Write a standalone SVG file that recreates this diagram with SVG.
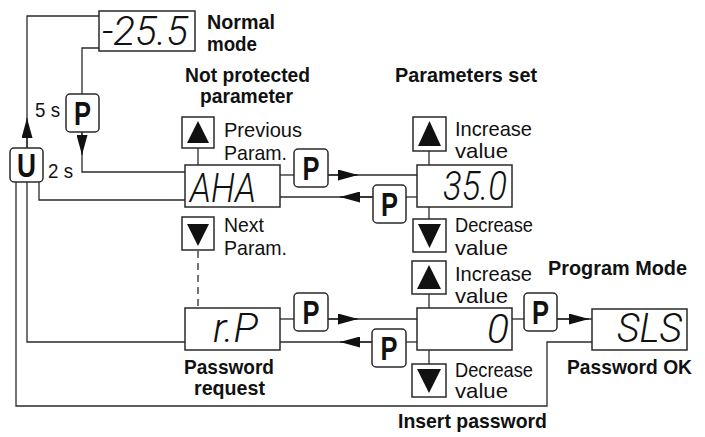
<svg xmlns="http://www.w3.org/2000/svg" width="705" height="437" viewBox="0 0 705 437">
<defs>
<style>
.ln{fill:none;stroke:#2a2a2a;stroke-width:1.3}
.dash{stroke-dasharray:7 5}
.box{fill:#fff;stroke:#2a2a2a;stroke-width:1.5}
.btn{fill:#fff;stroke:#2a2a2a;stroke-width:1.5}
.key{font-family:"Liberation Sans",Arial,sans-serif;font-weight:bold;font-size:33px;fill:#111;text-anchor:middle}
.lbl{font-family:"Liberation Sans",Arial,sans-serif;font-size:21px;fill:#111}
.bl{font-family:"Liberation Sans",Arial,sans-serif;font-size:21px;font-weight:bold;fill:#111}
.seg{font-family:Roboto,"DejaVu Sans",sans-serif;font-weight:300;font-style:italic;font-size:40px;fill:#111}
.tri{fill:#111}
</style>
<marker id="ah" markerUnits="userSpaceOnUse" viewBox="0 0 20 11" refX="20" refY="5.5" markerWidth="20" markerHeight="11" orient="auto"><path d="M0,0 L20,5.5 L0,11 z" fill="#111"/></marker>
</defs>
<rect width="705" height="437" fill="#fff"/>
<g id="connectors">
<path class="ln" d="M27,148 V16 H99"/>
<path class="ln" d="M27,148 V118" marker-end="url(#ah)"/>
<path class="ln" d="M99,48 H82 V94"/>
<path class="ln" d="M82,132 V172 H185"/>
<path class="ln" d="M82,132 V155" marker-end="url(#ah)"/>
<path class="ln" d="M39,182 V200 H185"/>
<path class="ln" d="M27,182 V342 H185"/>
<path class="ln" d="M16,182 V406 H547 V342 H592"/>
<path class="ln" d="M280,175 H294"/>
<path class="ln" d="M328,175 H417"/>
<path class="ln" d="M328,175 H358" marker-end="url(#ah)"/>
<path class="ln" d="M417,197 H406"/>
<path class="ln" d="M373,197 H280"/>
<path class="ln" d="M373,197 H340" marker-end="url(#ah)"/>
<path class="ln" d="M280,319 H294"/>
<path class="ln" d="M328,319 H417"/>
<path class="ln" d="M328,319 H358" marker-end="url(#ah)"/>
<path class="ln" d="M417,342 H406"/>
<path class="ln" d="M372,342 H280"/>
<path class="ln" d="M372,342 H340" marker-end="url(#ah)"/>
<path class="ln" d="M512,319 H524"/>
<path class="ln" d="M557,319 H592"/>
<path class="ln" d="M557,319 H589" marker-end="url(#ah)"/>
<path class="ln" d="M198,148 V165"/>
<path class="ln dash" d="M198,251 V308"/>
<path class="ln" d="M429,151 V165"/>
<path class="ln" d="M429,207 V219"/>
<path class="ln" d="M429,294 V308"/>
<path class="ln" d="M429,350 V364"/>
</g>
<g id="normal-mode">
<rect class="box" x="99" y="11" width="96" height="40"/>
<text class="seg" x="102" y="45" textLength="86" lengthAdjust="spacingAndGlyphs">-25.5</text>
<text class="bl" x="207" y="29" textLength="68" lengthAdjust="spacingAndGlyphs">Normal</text>
<text class="bl" x="207" y="51" textLength="50" lengthAdjust="spacingAndGlyphs">mode</text>
</g>
<g id="key-p-hold">
<rect class="btn" x="66" y="94" width="33" height="38" rx="4"/>
<text class="key" x="82.5" y="125" textLength="17" lengthAdjust="spacingAndGlyphs">P</text>
<text class="lbl" x="35" y="117" textLength="25" lengthAdjust="spacingAndGlyphs">5 s</text>
</g>
<g id="key-u">
<rect class="btn" x="10" y="148" width="33" height="34" rx="4"/>
<text class="key" x="26.5" y="177" textLength="19" lengthAdjust="spacingAndGlyphs">U</text>
<text class="lbl" x="48" y="178" textLength="25" lengthAdjust="spacingAndGlyphs">2 s</text>
</g>
<g id="not-protected-label">
<text class="bl" x="185" y="82" textLength="125" lengthAdjust="spacingAndGlyphs">Not protected</text>
<text class="bl" x="200" y="103" textLength="93" lengthAdjust="spacingAndGlyphs">parameter</text>
</g>
<g id="parameters-set-label">
<text class="bl" x="395" y="82" textLength="142" lengthAdjust="spacingAndGlyphs">Parameters set</text>
</g>
<g id="key-prev">
<rect class="btn" x="182" y="117" width="32" height="31"/>
<polygon class="tri" points="198,121 187,143 209,143"/>
<text class="lbl" x="224" y="137" textLength="78" lengthAdjust="spacingAndGlyphs">Previous</text>
<text class="lbl" x="224" y="160" textLength="63" lengthAdjust="spacingAndGlyphs">Param.</text>
</g>
<g id="aha">
<rect class="box" x="185" y="165" width="95" height="42"/>
<text class="seg" x="190" y="202" textLength="66" lengthAdjust="spacingAndGlyphs">AHA</text>
</g>
<g id="key-next">
<rect class="btn" x="182" y="217" width="32" height="33"/>
<polygon class="tri" points="187,224 209,224 198,246"/>
<text class="lbl" x="224" y="232" textLength="40" lengthAdjust="spacingAndGlyphs">Next</text>
<text class="lbl" x="224" y="255" textLength="63" lengthAdjust="spacingAndGlyphs">Param.</text>
</g>
<g id="key-p-1">
<rect class="btn" x="294" y="149" width="34" height="38" rx="4"/>
<text class="key" x="311" y="180" textLength="17" lengthAdjust="spacingAndGlyphs">P</text>
</g>
<g id="key-p-2">
<rect class="btn" x="373" y="185" width="33" height="38" rx="4"/>
<text class="key" x="389.5" y="216" textLength="17" lengthAdjust="spacingAndGlyphs">P</text>
</g>
<g id="key-inc-1">
<rect class="btn" x="413" y="117" width="33" height="34"/>
<polygon class="tri" points="429.5,121 418,146 441,146"/>
<text class="lbl" x="455" y="136" textLength="77" lengthAdjust="spacingAndGlyphs">Increase</text>
<text class="lbl" x="455" y="158" textLength="53" lengthAdjust="spacingAndGlyphs">value</text>
</g>
<g id="value-35">
<rect class="box" x="417" y="165" width="95" height="42"/>
<text class="seg" x="443" y="200" textLength="64" lengthAdjust="spacingAndGlyphs">35.0</text>
</g>
<g id="key-dec-1">
<rect class="btn" x="413" y="219" width="33" height="33"/>
<polygon class="tri" points="418,224 441,224 429.5,248"/>
<text class="lbl" x="455" y="232" textLength="78" lengthAdjust="spacingAndGlyphs">Decrease</text>
<text class="lbl" x="455" y="255" textLength="53" lengthAdjust="spacingAndGlyphs">value</text>
</g>
<g id="password-request">
<rect class="box" x="185" y="308" width="95" height="42"/>
<text class="seg" x="213" y="342" textLength="45" lengthAdjust="spacingAndGlyphs">r.P</text>
<text class="bl" x="184" y="374" textLength="90" lengthAdjust="spacingAndGlyphs">Password</text>
<text class="bl" x="194" y="395" textLength="71" lengthAdjust="spacingAndGlyphs">request</text>
</g>
<g id="key-p-3">
<rect class="btn" x="294" y="293" width="34" height="38" rx="4"/>
<text class="key" x="311" y="324" textLength="17" lengthAdjust="spacingAndGlyphs">P</text>
</g>
<g id="key-p-4">
<rect class="btn" x="372" y="329" width="34" height="38" rx="4"/>
<text class="key" x="389" y="360" textLength="17" lengthAdjust="spacingAndGlyphs">P</text>
</g>
<g id="key-inc-2">
<rect class="btn" x="412" y="261" width="34" height="33"/>
<polygon class="tri" points="429,265 417,289 441,289"/>
<text class="lbl" x="455" y="281" textLength="77" lengthAdjust="spacingAndGlyphs">Increase</text>
<text class="lbl" x="455" y="303" textLength="53" lengthAdjust="spacingAndGlyphs">value</text>
</g>
<g id="insert-password">
<rect class="box" x="417" y="308" width="95" height="42"/>
<text class="seg" x="487" y="343" textLength="22" lengthAdjust="spacingAndGlyphs">0</text>
<text class="bl" x="398" y="428" textLength="149" lengthAdjust="spacingAndGlyphs">Insert password</text>
</g>
<g id="key-dec-2">
<rect class="btn" x="412" y="364" width="34" height="33"/>
<polygon class="tri" points="417,369 441,369 429,393"/>
<text class="lbl" x="455" y="377" textLength="78" lengthAdjust="spacingAndGlyphs">Decrease</text>
<text class="lbl" x="455" y="398" textLength="53" lengthAdjust="spacingAndGlyphs">value</text>
</g>
<g id="key-p-5">
<rect class="btn" x="524" y="293" width="33" height="38" rx="4"/>
<text class="key" x="540.5" y="324" textLength="17" lengthAdjust="spacingAndGlyphs">P</text>
</g>
<g id="program-mode">
<text class="bl" x="548" y="275" textLength="139" lengthAdjust="spacingAndGlyphs">Program Mode</text>
<rect class="box" x="592" y="309" width="95" height="41"/>
<text class="seg" x="617" y="342" textLength="65" lengthAdjust="spacingAndGlyphs">SLS</text>
<text class="bl" x="567" y="374" textLength="125" lengthAdjust="spacingAndGlyphs">Password OK</text>
</g>
</svg>
